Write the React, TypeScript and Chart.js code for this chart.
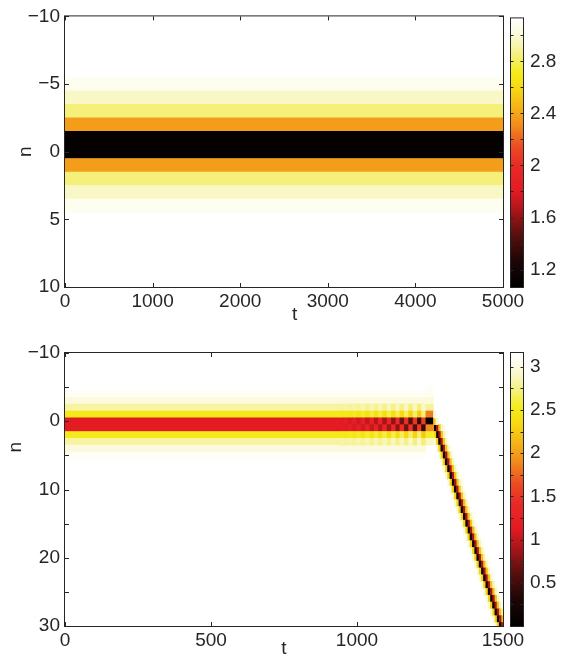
import React, { useEffect, useRef } from 'react';
import { Chart, registerables } from 'chart.js';

Chart.register(...registerables);

const FONT = 'Liberation Sans, Arial, Helvetica, sans-serif';
const TEXT = '#262626';

// ---------- colormap (fraction of colour range -> colour) ----------
const cmapStops = [0, 0.1, 0.2, 0.3, 0.36, 0.45, 0.52, 0.6, 0.66, 0.74, 0.8, 0.86, 0.92, 0.97, 1];
const cmapColors = ['#000000', '#1e0606', '#5c0f0f', '#b8161c', '#e31b23', '#e82a26', '#ec4a22', '#f18a1e', '#f5ad18', '#f7d812', '#f4ec1c', '#f5f07a', '#f9f7c8', '#fdfdf0', '#ffffff'];

// ---------- top panel ----------
const topTimeRange = [0, 5000];
const topRowsN = [-5, -4, -3, -2, -1, 0, 1, 2, 3, 4];
const topRowVals = [3.07, 2.96, 2.84, 2.37, 1.11, 1.11, 2.37, 2.84, 2.96, 3.07];
const topXTicks = [0, 1000, 2000, 3000, 4000, 5000];
const topYTicks = [-10, -5, 0, 5, 10];
const topYLabels = [-10, -5, 0, 5, 10];
const topCbarRange = [1.066, 3.13];
const topCbarTicks = [1.2, 1.4, 1.6, 1.8, 2.0, 2.2, 2.4, 2.6, 2.8, 3.0];
const topCbarLabels = [1.2, 1.6, 2, 2.4, 2.8];

// ---------- bottom panel ----------
const botRowsN = [-4, -3, -2, -1, 0, 1, 2, 3, 4, 5];
const botRowVals = [3.11, 2.99, 2.81, 2.5, 1.15, 1.15, 2.5, 2.81, 2.99, 3.11];
const botStationaryEnd = 1236;

const breathStarts = [940, 955, 970, 985, 999, 1014, 1029, 1044, 1059, 1073, 1088, 1103, 1118, 1133, 1147, 1162, 1177, 1192, 1207, 1221];
const breathEnd = 1236;
const breathRowsN = [-2, -1, 0, 1, 2, 3];
const breathM2 = [2.8, 2.82, 2.8, 2.83, 2.79, 2.84, 2.78, 2.85, 2.77, 2.86, 2.76, 2.87, 2.75, 2.88, 2.74, 2.89, 2.72, 2.9, 2.7, 2.92];
const breathM1 = [2.49, 2.51, 2.48, 2.53, 2.46, 2.55, 2.44, 2.57, 2.42, 2.59, 2.4, 2.61, 2.37, 2.63, 2.34, 2.65, 2.3, 2.68, 2.25, 2.7];
const breath0 = [1.13, 1.18, 1.1, 1.2, 1.06, 1.23, 1.0, 1.27, 0.95, 1.3, 0.88, 1.35, 0.8, 1.4, 0.7, 1.45, 0.6, 1.5, 0.45, 1.55];
const breath1 = [1.18, 1.13, 1.2, 1.1, 1.23, 1.06, 1.27, 1.0, 1.3, 0.95, 1.35, 0.88, 1.4, 0.8, 1.45, 0.7, 1.5, 0.6, 1.55, 0.45];
const breath2 = [2.51, 2.49, 2.53, 2.48, 2.55, 2.46, 2.57, 2.44, 2.59, 2.42, 2.61, 2.4, 2.63, 2.37, 2.65, 2.34, 2.68, 2.3, 2.7, 2.25];
const breath3 = [2.82, 2.8, 2.83, 2.8, 2.84, 2.79, 2.85, 2.78, 2.86, 2.77, 2.87, 2.76, 2.88, 2.75, 2.89, 2.74, 2.9, 2.72, 2.92, 2.7];
const breathSeries = [breathM2, breathM1, breath0, breath1, breath2, breath3];

const transN = [-5, -4, -3, -2, -1, 0, 1, 2, 3, 0, 0, -1];
const transT0 = [1240, 1236, 1236, 1236, 1236, 1236, 1236, 1236, 1236, 1262, 1270, 1262];
const transT1 = [1258, 1262, 1262, 1262, 1262, 1262, 1262, 1262, 1262, 1270, 1278, 1272];
const transV = [3.12, 3.08, 2.98, 2.8, 1.85, 0.05, 1.9, 2.55, 2.9, 2.2, 2.9, 3.0];

const diagN = [1, 2, 3, 4, 5, 6, 7, 8, 9, 10, 11, 12, 13, 14, 15, 16, 17, 18, 19, 20, 21, 22, 23, 24, 25, 26, 27, 28, 29, 30];
const diagTCore = [1268, 1276, 1283, 1291, 1299, 1306, 1314, 1322, 1330, 1337, 1345, 1353, 1360, 1368, 1376, 1384, 1391, 1399, 1407, 1414, 1422, 1430, 1437, 1445, 1453, 1461, 1468, 1476, 1484, 1491];
const diagOffsets = [-15.4, -7.7, 0, 7.7, 15.4, 23.1, 30.8];
const diagVals = [2.95, 2.3, 0.15, 0.9, 2.2, 2.85, 3.08];
const diagHalfCell = 3.85;

const botTimeRange = [0, 1500];
const botXTicks = [0, 500, 1000, 1500];
const botYTicks = [-10, -5, 0, 5, 10, 15, 20, 25, 30];
const botYLabels = [-10, 0, 10, 20, 30];
const botCbarRange = [0, 3.16];
const botCbarTicks = [0.25, 0.5, 0.75, 1, 1.25, 1.5, 1.75, 2, 2.25, 2.5, 2.75, 3];
const botCbarLabels = [0.5, 1, 1.5, 2, 2.5, 3];

// ---------- helpers ----------
type Cell = { n: number; t0: number; t1: number; v: number };

function hexToRgb(h: string) {
  const x = parseInt(h.slice(1), 16);
  return [(x >> 16) & 255, (x >> 8) & 255, x & 255];
}
const cmapRgb = cmapColors.map(hexToRgb);

function colorFor(v: number, lo: number, hi: number) {
  let f = (v - lo) / (hi - lo);
  f = Math.max(0, Math.min(1, f));
  let i = 0;
  while (i < cmapStops.length - 2 && f > cmapStops[i + 1]) i++;
  const a = cmapStops[i], b = cmapStops[i + 1];
  const u = b > a ? (f - a) / (b - a) : 0;
  const c0 = cmapRgb[i], c1 = cmapRgb[i + 1];
  const r = Math.round(c0[0] + (c1[0] - c0[0]) * u);
  const g = Math.round(c0[1] + (c1[1] - c0[1]) * u);
  const bl = Math.round(c0[2] + (c1[2] - c0[2]) * u);
  return `rgb(${r},${g},${bl})`;
}

function fmt(v: number) {
  const s = String(Number(v.toFixed(2)));
  return s.replace('-', '\u2212');
}
function inList(v: number, list: number[]) {
  return list.some((x) => Math.abs(x - v) < 1e-9);
}

function topCells(): Cell[] {
  return topRowsN.map((n, i) => ({ n, t0: topTimeRange[0], t1: topTimeRange[1], v: topRowVals[i] }));
}

function bottomCells(): Cell[] {
  const cells: Cell[] = [];
  botRowsN.forEach((n, i) => cells.push({ n, t0: 0, t1: botStationaryEnd, v: botRowVals[i] }));
  breathRowsN.forEach((n, r) => {
    const vals = breathSeries[r];
    breathStarts.forEach((t0, k) => {
      const t1 = k + 1 < breathStarts.length ? breathStarts[k + 1] : breathEnd;
      cells.push({ n, t0, t1, v: vals[k] });
    });
  });
  diagN.forEach((n, i) => {
    diagOffsets.forEach((off, j) => {
      const c = diagTCore[i] + off;
      cells.push({ n, t0: c - diagHalfCell, t1: c + diagHalfCell, v: diagVals[j] });
    });
  });
  transN.forEach((n, i) => cells.push({ n, t0: transT0[i], t1: transT1[i], v: transV[i] }));
  return cells;
}

// Matlab-like box and inward tick marks
const matlabAxes = {
  id: 'matlabAxes',
  afterDraw(chart: any, _args: any, opts: any) {
    const { ctx, chartArea: a } = chart;
    const len = opts.len || 4;
    ctx.save();
    ctx.strokeStyle = TEXT;
    ctx.lineWidth = 1;
    ctx.beginPath();
    if (opts.showX) {
      const s = chart.scales.x;
      s.ticks.forEach((t: any) => {
        const p = Math.round(s.getPixelForValue(t.value)) + 0.5;
        ctx.moveTo(p, a.bottom);
        ctx.lineTo(p, a.bottom - len);
        ctx.moveTo(p, a.top);
        ctx.lineTo(p, a.top + len);
      });
    }
    if (opts.showY) {
      const s = chart.scales.y;
      s.ticks.forEach((t: any) => {
        const p = Math.round(s.getPixelForValue(t.value)) + 0.5;
        ctx.moveTo(a.left, p);
        ctx.lineTo(a.left + len, p);
        ctx.moveTo(a.right, p);
        ctx.lineTo(a.right - len, p);
      });
    }
    ctx.stroke();
    ctx.strokeRect(a.left - 0.5, a.top - 0.5, a.right - a.left + 1, a.bottom - a.top + 1);
    ctx.restore();
  },
};

const tickFont = { family: FONT, size: 19 };

function heatConfig(cells: Cell[], p: any): any {
  return {
    type: 'bar',
    data: {
      datasets: [
        {
          data: cells.map((c) => ({ x: [c.t0, c.t1], y: c.n })),
          backgroundColor: cells.map((c) => colorFor(c.v, p.cRange[0], p.cRange[1])),
          borderWidth: 0,
          barPercentage: 1,
          categoryPercentage: 1,
        },
      ],
    },
    options: {
      indexAxis: 'y',
      animation: false,
      responsive: false,
      events: [],
      layout: { padding: p.padding },
      plugins: {
        legend: { display: false },
        tooltip: { enabled: false },
        matlabAxes: { showX: true, showY: true, len: 4 },
      },
      scales: {
        x: {
          type: 'linear',
          position: 'bottom',
          min: p.xRange[0],
          max: p.xRange[1],
          offset: false,
          beginAtZero: false,
          grid: { display: false, drawTicks: false },
          border: { display: false },
          ticks: {
            font: tickFont,
            color: TEXT,
            padding: p.xTickPad,
            maxRotation: 0,
            autoSkip: false,
            callback: (v: number) => fmt(v),
          },
          afterBuildTicks: (s: any) => {
            s.ticks = p.xTicks.map((v: number) => ({ value: v }));
          },
          afterFit: (s: any) => {
            s.height = p.xAxisH;
          },
          title: {
            display: true,
            text: p.xTitle,
            font: tickFont,
            color: TEXT,
            padding: { top: 0, bottom: p.xTitlePad },
          },
        },
        y: {
          type: 'linear',
          position: 'left',
          min: p.yRange[0],
          max: p.yRange[1],
          reverse: true,
          offset: false,
          beginAtZero: false,
          grid: { display: false, drawTicks: false, offset: false },
          border: { display: false },
          ticks: {
            font: tickFont,
            color: TEXT,
            padding: 5,
            autoSkip: false,
            callback: (v: number) => (inList(v, p.yLabels) ? fmt(v) : ''),
          },
          afterBuildTicks: (s: any) => {
            s.ticks = p.yTicks.map((v: number) => ({ value: v }));
          },
          afterFit: (s: any) => {
            s.width = 65;
          },
          title: {
            display: true,
            text: p.yTitle,
            font: tickFont,
            color: TEXT,
            padding: { top: p.yTitlePad, bottom: 0 },
          },
        },
      },
    },
    plugins: [matlabAxes],
  };
}

function cbarConfig(p: any): any {
  return {
    type: 'bar',
    data: {
      labels: [''],
      datasets: [
        {
          data: [[p.cRange[0], p.cRange[1]]],
          backgroundColor: (ctx: any) => {
            const ch = ctx.chart;
            const a = ch.chartArea;
            if (!a) return '#000';
            const g = ch.ctx.createLinearGradient(0, a.bottom, 0, a.top);
            cmapStops.forEach((s, i) => g.addColorStop(s, cmapColors[i]));
            return g;
          },
          borderWidth: 0,
          barPercentage: 1,
          categoryPercentage: 1,
        },
      ],
    },
    options: {
      animation: false,
      responsive: false,
      events: [],
      layout: { padding: p.padding },
      plugins: {
        legend: { display: false },
        tooltip: { enabled: false },
        matlabAxes: { showX: false, showY: true, len: 2.5 },
      },
      scales: {
        x: { type: 'category', display: false },
        y: {
          type: 'linear',
          position: 'right',
          min: p.cRange[0],
          max: p.cRange[1],
          beginAtZero: false,
          grid: { display: false, drawTicks: false },
          border: { display: false },
          ticks: {
            font: tickFont,
            color: TEXT,
            padding: 7,
            autoSkip: false,
            callback: (v: number) => (inList(v, p.labels) ? fmt(v) : ''),
          },
          afterBuildTicks: (s: any) => {
            s.ticks = p.ticks.map((v: number) => ({ value: v }));
          },
          afterFit: (s: any) => {
            s.width = 39;
          },
        },
      },
    },
    plugins: [matlabAxes],
  };
}

export default function App() {
  const topRef = useRef<HTMLCanvasElement>(null);
  const topCbRef = useRef<HTMLCanvasElement>(null);
  const botRef = useRef<HTMLCanvasElement>(null);
  const botCbRef = useRef<HTMLCanvasElement>(null);

  useEffect(() => {
    const charts: Chart[] = [];
    charts.push(
      new Chart(
        topRef.current as HTMLCanvasElement,
        heatConfig(topCells(), {
          cRange: topCbarRange,
          xRange: topTimeRange,
          yRange: [-10, 10],
          xTicks: topXTicks,
          yTicks: topYTicks,
          yLabels: topYLabels,
          padding: { left: 0, top: 15, right: 37, bottom: 0 },
          xAxisH: 43,
          xTickPad: 3.5,
          xTitle: '    t',
          xTitlePad: 3.5,
          yTitle: 'n',
          yTitlePad: 14.4,
        })
      )
    );
    charts.push(
      new Chart(
        botRef.current as HTMLCanvasElement,
        heatConfig(bottomCells(), {
          cRange: botCbarRange,
          xRange: botTimeRange,
          yRange: [-10, 30],
          xTicks: botXTicks,
          yTicks: botYTicks,
          yLabels: botYLabels,
          padding: { left: 0, top: 23, right: 37, bottom: 0 },
          xAxisH: 44,
          xTickPad: 3,
          xTitle: 't',
          xTitlePad: 10.2,
          yTitle: '                n',
          yTitlePad: 4.3,
        })
      )
    );
    charts.push(
      new Chart(
        topCbRef.current as HTMLCanvasElement,
        cbarConfig({
          cRange: topCbarRange,
          ticks: topCbarTicks,
          labels: topCbarLabels,
          padding: { left: 6, top: 15, right: 0, bottom: 43 },
        })
      )
    );
    charts.push(
      new Chart(
        botCbRef.current as HTMLCanvasElement,
        cbarConfig({
          cRange: botCbarRange,
          ticks: botCbarTicks,
          labels: botCbarLabels,
          padding: { left: 6, top: 23, right: 0, bottom: 44 },
        })
      )
    );
    return () => charts.forEach((c) => c.destroy());
  }, []);

  const abs = (l: number, t: number, w: number, h: number): React.CSSProperties => ({
    position: 'absolute',
    left: l,
    top: t,
    width: w,
    height: h,
  });

  return (
    <div
      style={{
        position: 'fixed',
        left: 0,
        top: 0,
        width: 562,
        height: 656,
        overflow: 'hidden',
        background: '#ffffff',
      }}
    >
      <canvas ref={topRef} width={540} height={330} style={abs(0, 0, 540, 330)} />
      <canvas ref={botRef} width={540} height={340} style={abs(0, 330, 540, 340)} />
      <canvas ref={topCbRef} width={57} height={330} style={abs(505, 0, 57, 330)} />
      <canvas ref={botCbRef} width={57} height={340} style={abs(505, 330, 57, 340)} />
    </div>
  );
}
